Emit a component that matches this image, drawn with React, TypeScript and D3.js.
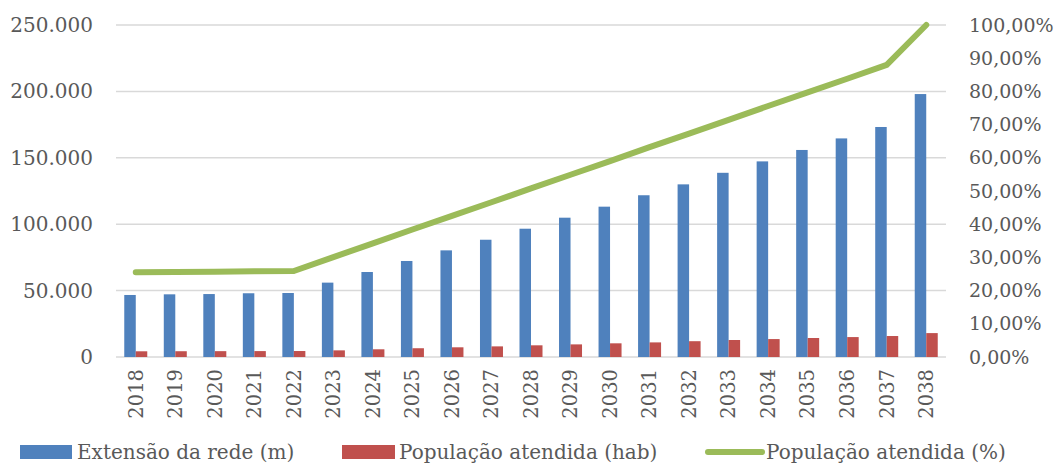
import * as d3 from "d3";
import { useEffect, useRef } from "react";

const YEARS = [
  "2018", "2019", "2020", "2021", "2022", "2023", "2024", "2025", "2026", "2027", "2028",
  "2029", "2030", "2031", "2032", "2033", "2034", "2035", "2036", "2037", "2038",
];
const EXTENSAO = [
  46700, 47200, 47400, 48000, 48200, 56000, 64000, 72300, 80300, 88300, 96600,
  104900, 113200, 121800, 130000, 138700, 147300, 155900, 164600, 173200, 198000,
];
const POP_HAB = [
  4300, 4350, 4400, 4450, 4500, 5000, 5800, 6600, 7300, 8000, 8800,
  9500, 10300, 11000, 11900, 12800, 13500, 14300, 15000, 15800, 18000,
];
const POP_PCT = [
  0.255, 0.256, 0.257, 0.258, 0.259, 0.301, 0.342, 0.384, 0.425, 0.466, 0.508,
  0.549, 0.59, 0.632, 0.673, 0.714, 0.756, 0.797, 0.838, 0.88, 1.0,
];
const LEFT_TICKS = [0, 50000, 100000, 150000, 200000, 250000];
const RIGHT_TICKS = [0, 0.1, 0.2, 0.3, 0.4, 0.5, 0.6, 0.7, 0.8, 0.9, 1.0];
const LEGEND = ["Extensão da rede (m)", "População atendida (hab)", "População atendida (%)"];

const BLUE = "#4F81BD";
const RED = "#C0504D";
const GREEN = "#9BBB59";
const TEXT = "#595959";
const FONT = "'DejaVu Serif', serif";

const W = 1062;
const H = 463;

export default function App() {
  const svgRef = useRef<SVGSVGElement | null>(null);

  useEffect(() => {
    const svg = d3.select(svgRef.current);
    svg.selectAll("*").remove();

    const left = 116, right = 946, top = 25, bottom = 357;

    const x = d3.scaleBand().domain(YEARS).range([left, right]);
    const y = d3.scaleLinear().domain([0, 250000]).range([bottom, top]);
    const y2 = d3.scaleLinear().domain([0, 1]).range([bottom, top]);

    const fmtLeft = (v: number) => d3.format(",")(v).replace(/,/g, ".");
    const fmtRight = (v: number) => d3.format(".2f")(v * 100).replace(".", ",") + "%";

    // gridlines
    svg.append("g")
      .selectAll("line")
      .data(LEFT_TICKS)
      .enter()
      .append("line")
      .attr("x1", left)
      .attr("x2", right)
      .attr("y1", d => y(d))
      .attr("y2", d => y(d))
      .attr("stroke", "#D9D9D9")
      .attr("stroke-width", 1.5);

    // left labels
    svg.append("g")
      .selectAll("text")
      .data(LEFT_TICKS)
      .enter()
      .append("text")
      .attr("x", 93)
      .attr("y", d => y(d))
      .attr("dy", "0.35em")
      .attr("text-anchor", "end")
      .attr("font-family", FONT)
      .attr("font-size", 20)
      .attr("fill", TEXT)
      .text(fmtLeft);

    // right labels
    svg.append("g")
      .selectAll("text")
      .data(RIGHT_TICKS)
      .enter()
      .append("text")
      .attr("x", 969)
      .attr("y", d => y2(d))
      .attr("dy", "0.35em")
      .attr("font-family", FONT)
      .attr("font-size", 19)
      .attr("fill", TEXT)
      .text(fmtRight);

    // year labels
    svg.append("g")
      .selectAll("text")
      .data(YEARS)
      .enter()
      .append("text")
      .attr("transform", d => `translate(${x(d)! + x.bandwidth() / 2},${bottom + 12}) rotate(-90)`)
      .attr("dy", "0.35em")
      .attr("text-anchor", "end")
      .attr("font-family", FONT)
      .attr("font-size", 19.5)
      .attr("fill", TEXT)
      .text(d => d);

    const barW = 11.5;
    const center = (d: string) => x(d)! + x.bandwidth() / 2;

    svg.append("g")
      .selectAll("rect")
      .data(YEARS)
      .enter()
      .append("rect")
      .attr("x", d => center(d) - barW)
      .attr("y", (d, i) => y(EXTENSAO[i]))
      .attr("width", barW)
      .attr("height", (d, i) => bottom - y(EXTENSAO[i]))
      .attr("fill", BLUE);

    svg.append("g")
      .selectAll("rect")
      .data(YEARS)
      .enter()
      .append("rect")
      .attr("x", d => center(d))
      .attr("y", (d, i) => y(POP_HAB[i]))
      .attr("width", barW)
      .attr("height", (d, i) => bottom - y(POP_HAB[i]))
      .attr("fill", RED);

    const line = d3.line<number>()
      .x((d, i) => center(YEARS[i]))
      .y(d => y2(d));

    svg.append("path")
      .datum(POP_PCT)
      .attr("d", line)
      .attr("fill", "none")
      .attr("stroke", GREEN)
      .attr("stroke-width", 6)
      .attr("stroke-linecap", "round")
      .attr("stroke-linejoin", "round");

    // legend
    const lg = svg.append("g");
    const ly = 452;
    lg.append("rect").attr("x", 20).attr("y", ly - 7).attr("width", 52).attr("height", 14).attr("fill", BLUE);
    lg.append("rect").attr("x", 342).attr("y", ly - 7).attr("width", 53).attr("height", 14).attr("fill", RED);
    lg.append("line")
      .attr("x1", 708).attr("x2", 762).attr("y1", ly).attr("y2", ly)
      .attr("stroke", GREEN).attr("stroke-width", 6).attr("stroke-linecap", "round");
    const lx = [77, 399, 766];
    LEGEND.forEach((t, i) => {
      lg.append("text")
        .attr("x", lx[i])
        .attr("y", ly)
        .attr("dy", "0.35em")
        .attr("font-family", FONT)
        .attr("font-size", 20)
        .attr("fill", TEXT)
        .text(t);
    });
  }, []);

  return (
    <svg ref={svgRef} width={W} height={H} style={{ position: "absolute", left: 0, top: 0, background: "#fff" }} />
  );
}
